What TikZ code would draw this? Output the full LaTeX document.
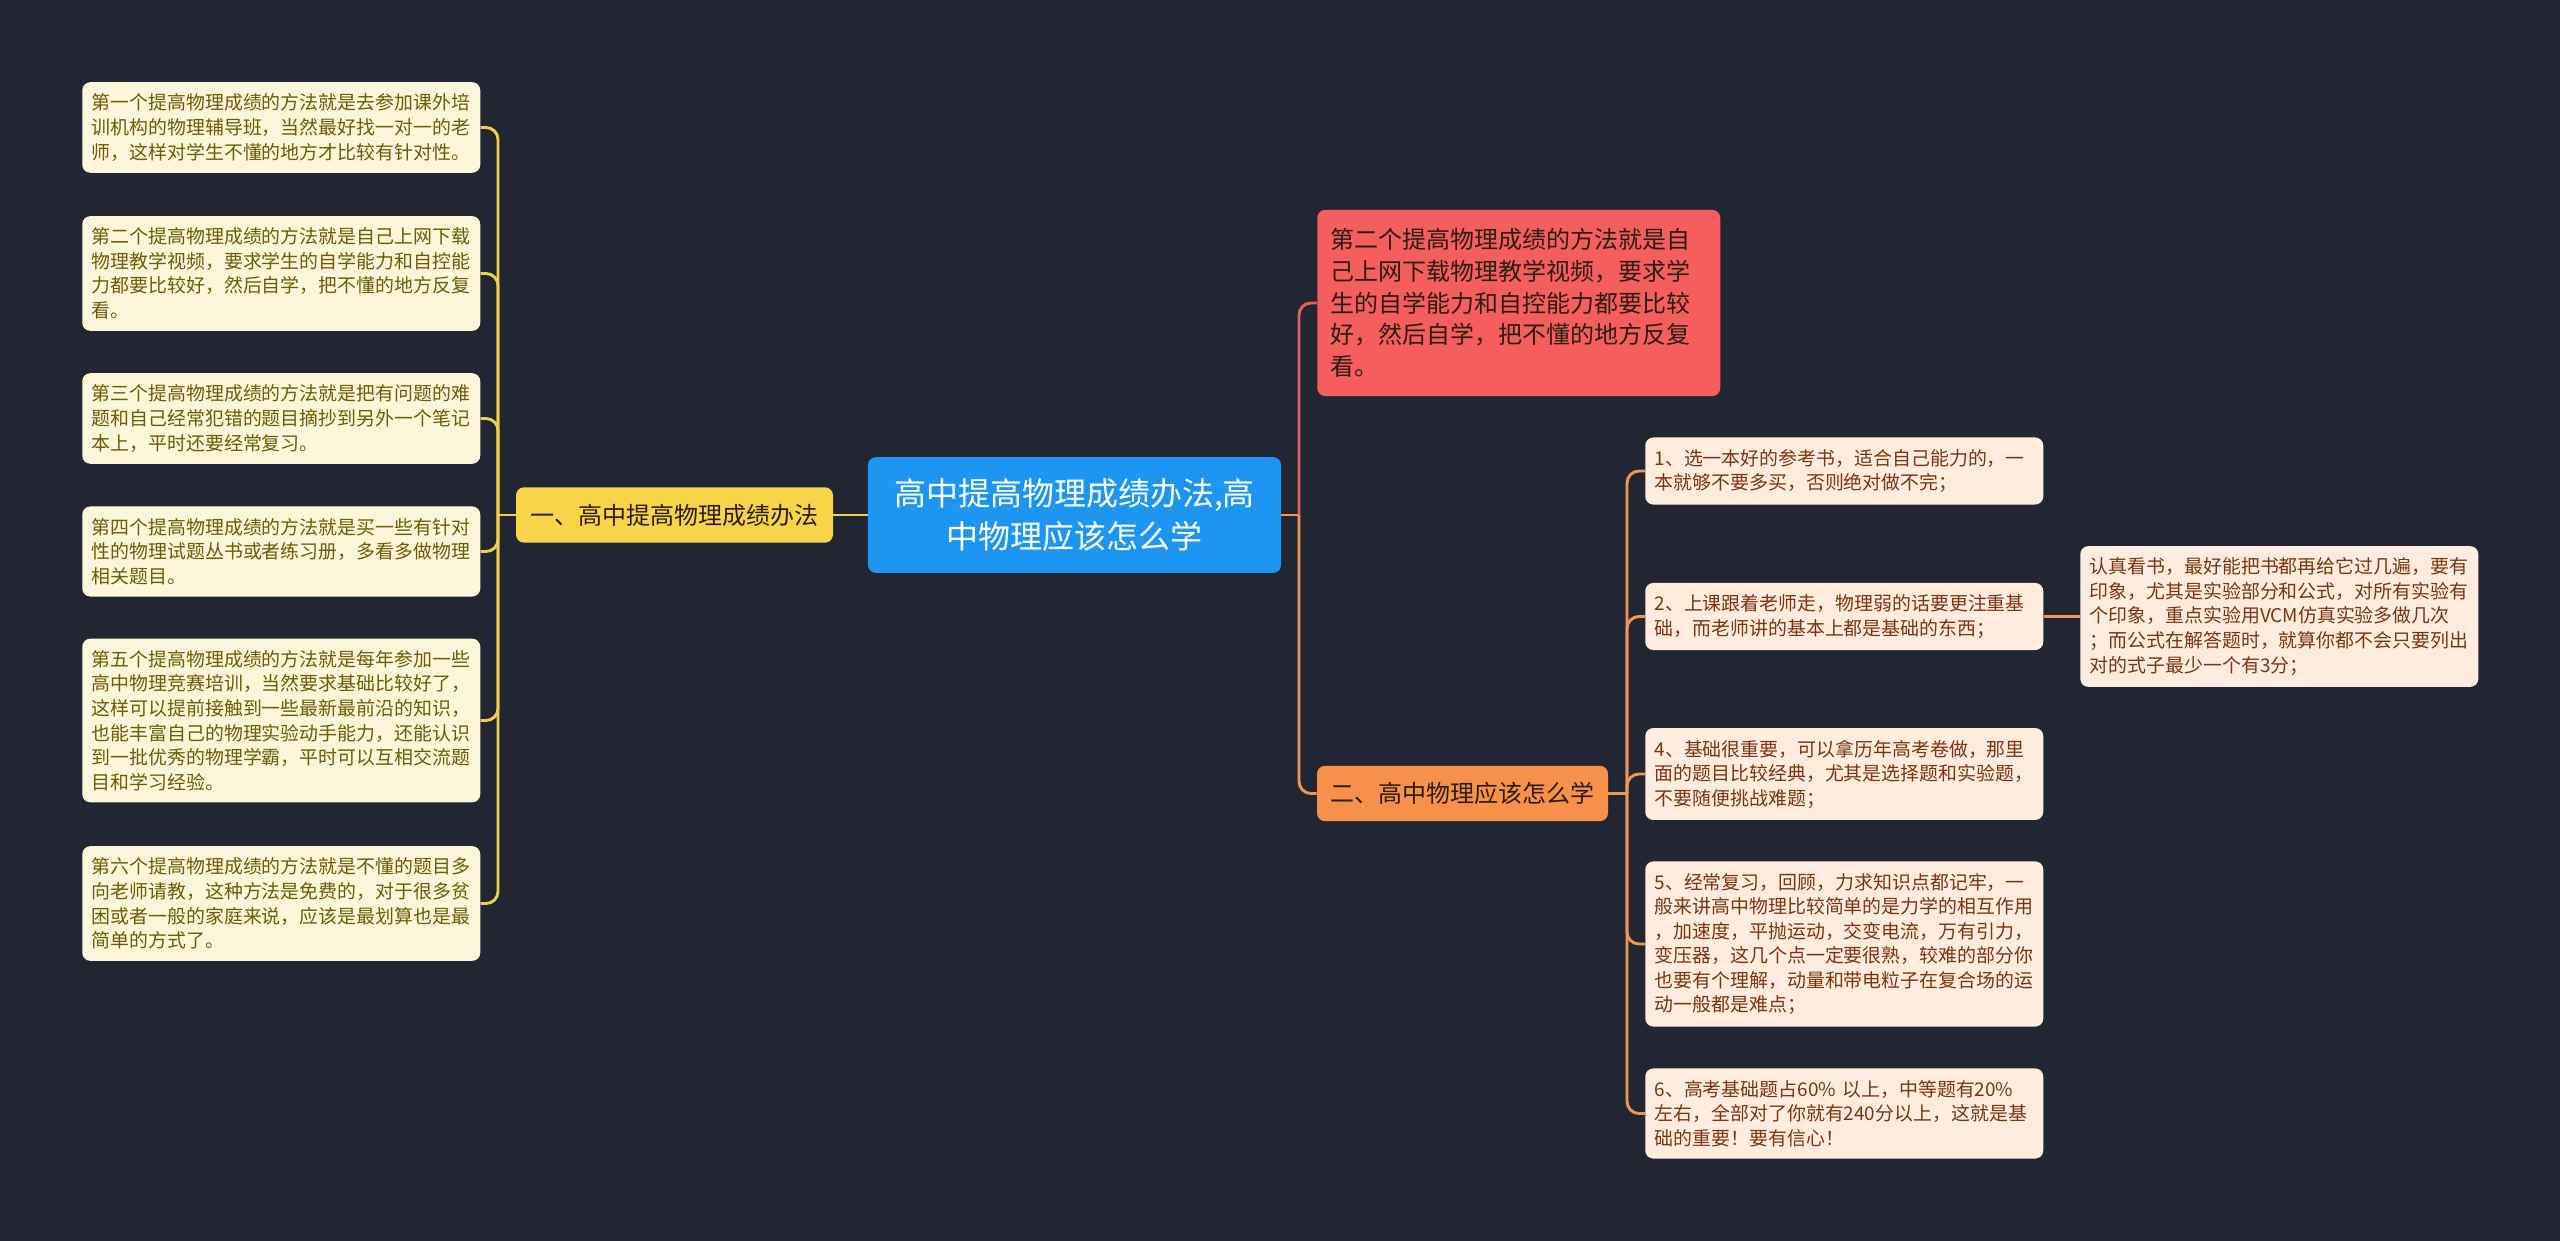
\documentclass[tikz,border=0pt]{standalone}
\usepackage{fontspec}
\setmainfont{Noto Sans CJK SC}
\usepackage{tikz}

\definecolor{bgc}{HTML}{222532}
\definecolor{rootc}{HTML}{1C96F0}
\definecolor{yelc}{HTML}{F8D449}
\definecolor{orac}{HTML}{F7914A}
\definecolor{redc}{HTML}{F55D5E}
\definecolor{creamc}{HTML}{FEF6DA}
\definecolor{peachc}{HTML}{FEECDF}
\definecolor{olivec}{HTML}{6E5A07}
\definecolor{brownc}{HTML}{7A3510}
\definecolor{darkc}{HTML}{2A1E14}
\definecolor{redline}{HTML}{E0605E}
\definecolor{oraline}{HTML}{F29656}
\definecolor{yelline}{HTML}{F2CF4A}

\begin{document}
\begin{tikzpicture}[x=0.75pt,y=-0.75pt,
	leaf/.style={rounded corners=6pt, inner xsep=7pt, inner ysep=8.8pt, text width=284.5pt, align=left, anchor=west, font=\fontsize{14.2pt}{18.4pt}\selectfont},
	yleaf/.style={leaf, fill=creamc, text=olivec},
	oleaf/.style={leaf, fill=peachc, text=brownc},
	rootbox/.style={rounded corners=6pt, fill=rootc, text=white, inner xsep=9.9pt, inner ysep=16.3pt, text width=290pt, align=center, font=\fontsize{24pt}{32pt}\selectfont},
	branch/.style={rounded corners=6pt, inner sep=0pt, minimum height=41.5pt, text=darkc, font=\fontsize{18pt}{22pt}\selectfont},
	redbox/.style={rounded corners=6pt, fill=redc, text=darkc, inner xsep=9.75pt, inner ysep=13.9pt, text width=282.75pt, align=left, anchor=west, font=\fontsize{18pt}{23.8pt}\selectfont},
	link/.style={line width=2.2pt, rounded corners=9pt},
	ylink/.style={link, draw=yelline},
	olink/.style={link, draw=oraline},
	rlink/.style={link, draw=redline}]
	\fill[bgc] (0,0) rectangle (2560,1241);
	\useasboundingbox (0,0) rectangle (2560,1241);

	\node[rootbox] (root) at (1074.5,515) {高中提高物理成绩办法,高\\中物理应该怎么学};
	\node[branch, fill=yelc, minimum width=237.75pt] (one) at (674.5,515) {一、高中提高物理成绩办法};
	\node[branch, fill=orac, minimum width=218.25pt] (two) at (1462.5,793.5) {二、高中物理应该怎么学};
	\node[redbox] (red) at (1317,303) {第二个提高物理成绩的方法就是自\\己上网下载物理教学视频，要求学\\生的自学能力和自控能力都要比较\\好，然后自学，把不懂的地方反复\\看。};

	\node[yleaf] (a1) at (82,127.5) {第一个提高物理成绩的方法就是去参加课外培\\训机构的物理辅导班，当然最好找一对一的老\\师，这样对学生不懂的地方才比较有针对性。};
	\node[yleaf] (a2) at (82,273.5) {第二个提高物理成绩的方法就是自己上网下载\\物理教学视频，要求学生的自学能力和自控能\\力都要比较好，然后自学，把不懂的地方反复\\看。};
	\node[yleaf] (a3) at (82,418.5) {第三个提高物理成绩的方法就是把有问题的难\\题和自己经常犯错的题目摘抄到另外一个笔记\\本上，平时还要经常复习。};
	\node[yleaf] (a4) at (82,551.5) {第四个提高物理成绩的方法就是买一些有针对\\性的物理试题丛书或者练习册，多看多做物理\\相关题目。};
	\node[yleaf] (a5) at (82,720.5) {第五个提高物理成绩的方法就是每年参加一些\\高中物理竞赛培训，当然要求基础比较好了，\\这样可以提前接触到一些最新最前沿的知识，\\也能丰富自己的物理实验动手能力，还能认识\\到一批优秀的物理学霸，平时可以互相交流题\\目和学习经验。};
	\node[yleaf] (a6) at (82,903.5) {第六个提高物理成绩的方法就是不懂的题目多\\向老师请教，这种方法是免费的，对于很多贫\\困或者一般的家庭来说，应该是最划算也是最\\简单的方式了。};

	\node[oleaf] (b1) at (1645,471) {1、选一本好的参考书，适合自己能力的，一\\本就够不要多买，否则绝对做不完；};
	\node[oleaf] (b2) at (1645,616.5) {2、上课跟着老师走，物理弱的话要更注重基\\础，而老师讲的基本上都是基础的东西；};
	\node[oleaf] (b4) at (1645,774) {4、基础很重要，可以拿历年高考卷做，那里\\面的题目比较经典，尤其是选择题和实验题，\\不要随便挑战难题；};
	\node[oleaf] (b5) at (1645,944) {5、经常复习，回顾，力求知识点都记牢，一\\般来讲高中物理比较简单的是力学的相互作用\\，加速度，平抛运动，交变电流，万有引力，\\变压器，这几个点一定要很熟，较难的部分你\\也要有个理解，动量和带电粒子在复合场的运\\动一般都是难点；};
	\node[oleaf] (b6) at (1645,1113.5) {6、高考基础题占60\% 以上，中等题有20\%\\左右，全部对了你就有240分以上，这就是基\\础的重要！要有信心！};
	\node[oleaf] (g2) at (2080,616.5) {认真看书，最好能把书都再给它过几遍，要有\\印象，尤其是实验部分和公式，对所有实验有\\个印象，重点实验用VCM仿真实验多做几次\\；而公式在解答题时，就算你都不会只要列出\\对的式子最少一个有3分；};

	\coordinate (lhub) at (498,515);
	\coordinate (rhub) at (1299,515);
	\coordinate (ohub) at (1627,793.5);

	\draw[ylink] (root.west) -- (one.east);
	\draw[ylink] (one.west) -- (lhub);
	\foreach \n in {a1,a2,a3,a4,a5,a6}
		\draw[ylink] (lhub) |- (\n.east);

	\draw[olink] (root.east) -- (rhub);
	\draw[rlink] (rhub) |- (red.west);
	\draw[olink] (rhub) |- (two.west);
	\draw[olink] (two.east) -- (ohub);
	\foreach \n in {b1,b2,b4,b5,b6}
		\draw[olink] (ohub) |- (\n.west);
	\draw[olink] (b2.east) -- (g2.west);
\end{tikzpicture}
\end{document}
